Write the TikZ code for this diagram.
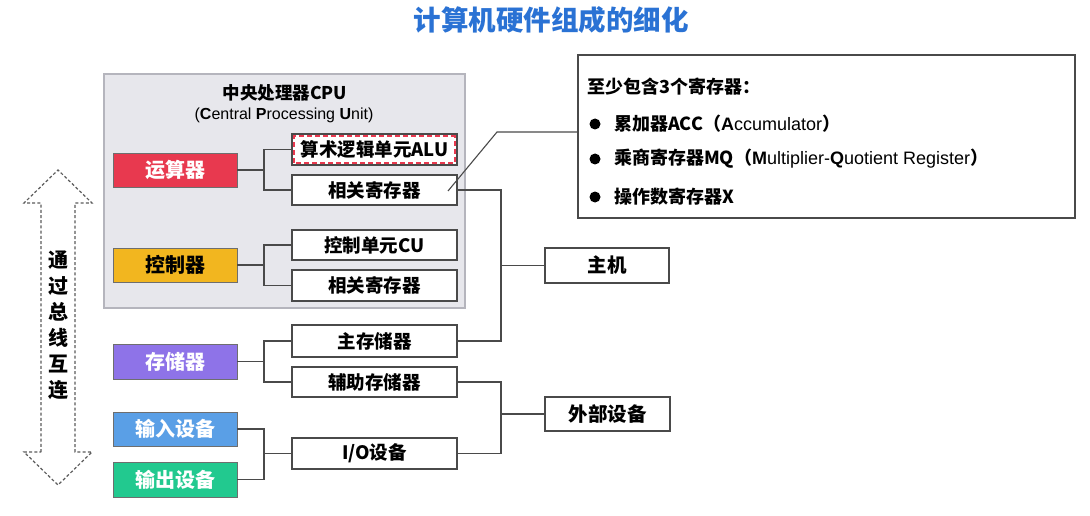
\documentclass[tikz,border=0pt]{standalone}
\usepackage{fontspec}
\setmainfont{Noto Sans CJK SC}
\newfontfamily\lat{Liberation Sans}
\definecolor{cred}{HTML}{E8394F}
\definecolor{cyel}{HTML}{F2B61F}
\definecolor{cpur}{HTML}{8E73E8}
\definecolor{cblu}{HTML}{5A9FE6}
\definecolor{cgrn}{HTML}{22C98F}
\definecolor{ctitle}{HTML}{2A72D4}
\definecolor{cline}{HTML}{4A4A4A}
\definecolor{cpufill}{HTML}{E7E7EC}
\definecolor{cpuline}{HTML}{B5B5BD}
\tikzset{
  colbox/.style={draw=cline!80, line width=0.9pt, minimum width=124pt, minimum height=34pt, inner sep=0pt, font=\fontsize{20}{22}\selectfont\bfseries, text=white},
  wbox/.style={draw=cline, line width=1.3pt, fill=white, minimum width=165pt, minimum height=31pt, inner sep=0pt, font=\fontsize{18.5}{20}\selectfont\bfseries},
  hbox/.style={draw=cline, line width=1.3pt, fill=white, minimum width=124pt, minimum height=35pt, inner sep=0pt, font=\fontsize{19.5}{21}\selectfont\bfseries},
  conn/.style={draw=cline, line width=1.3pt},
  ctext/.style={anchor=west, inner sep=0pt, font=\fontsize{18}{20}\selectfont\bfseries},
}
\begin{document}
\begin{tikzpicture}[x=1pt,y=-1pt]
\useasboundingbox (0,0) rectangle (1090,516);
\fill[white] (0,0) rectangle (1090,516);
% title
\node[font=\fontsize{27.5}{30}\selectfont\bfseries, text=ctitle] (title) at (551,20) {计算机硬件组成的细化};
% CPU box
\node[draw=cpuline, line width=1.2pt, fill=cpufill, minimum width=361pt, minimum height=234pt, inner sep=0pt] (cpu) at (284.5,191) {};
\node[font=\fontsize{17.5}{19}\selectfont\bfseries] (cput) at (285,93) {中央处理器CPU};
\node[font=\fontsize{16}{18}\selectfont\lat] (cpus) at (284,115) {(\textbf{C}entral \textbf{P}rocessing \textbf{U}nit)};
% left coloured boxes
\node[colbox, fill=cred] (alu0) at (175,170) {运算器};
\node[colbox, fill=cyel, text=black] (ctl) at (175,265) {控制器};
\node[colbox, fill=cpur, minimum height=35pt] (mem0) at (175,361.5) {存储器};
\node[colbox, fill=cblu] (inp) at (175,429) {输入设备};
\node[colbox, fill=cgrn, minimum height=35pt] (outp) at (175,479.5) {输出设备};
% white boxes
\node[wbox] (alu) at (374.5,149.5) {算术逻辑单元ALU};
\draw[cred, line width=2pt, dash pattern=on 5pt off 3pt] ([shift={(2.8,-2.8)}]alu.south west) rectangle ([shift={(-2.8,2.8)}]alu.north east);
\node[wbox, minimum height=30pt] (reg1) at (374.5,190) {相关寄存器};
\node[wbox, minimum height=30pt] (cu) at (374.5,245) {控制单元CU};
\node[wbox] (reg2) at (374.5,285.5) {相关寄存器};
\node[wbox, minimum height=32pt] (mm) at (374.5,341) {主存储器};
\node[wbox, minimum height=30pt] (aux) at (374.5,382) {辅助存储器};
\node[wbox] (io) at (374.5,453.5) {I/O设备};
\node[hbox] (host) at (607,265.5) {主机};
\node[hbox, minimum width=125pt, minimum height=34pt] (ext) at (607.5,414) {外部设备};
% brackets left
\coordinate (j1) at (264,170);
\coordinate (j2) at (264,265);
\coordinate (j3) at (264,361.5);
\coordinate (j4) at (264,453.5);
\draw[conn] (alu0.east) -- (j1);
\draw[conn] (alu.west) -| (j1) |- (reg1.west);
\draw[conn] (ctl.east) -- (j2);
\draw[conn] (cu.west) -| (j2) |- (reg2.west);
\draw[conn] (mem0.east) -- (j3);
\draw[conn] (mm.west) -| (j3) |- (aux.west);
\draw[conn] (inp.east) -| (j4) |- (outp.east);
\draw[conn] (j4) -- (io.west);
% brackets right
\coordinate (r1) at (501,265.5);
\coordinate (r2) at (501,414);
\draw[conn] (reg1.east) -| (r1) |- (mm.east);
\draw[conn] (r1) -- (host.west);
\draw[conn] (aux.east) -| (r2) |- (io.east);
\draw[conn] (r2) -- (ext.west);
% callout
\node[draw=cline, line width=1.3pt, fill=white, minimum width=497pt, minimum height=163pt, inner sep=0pt] (call) at (826.5,136.5) {};
\coordinate (cl) at (448,191);
\coordinate (cb) at (497,132);
\draw[cline, line width=1.1pt] (cl) -- (cb) -- (cb -| call.west);
\node[ctext] (h0) at (587,87) {至少包含3个寄存器：};
\fill (595,124) circle (5.5pt);
\fill (595,159) circle (5.5pt);
\fill (595,197) circle (5.5pt);
\node[ctext] (b1) at (614,124) {累加器ACC（{\lat\mdseries\textbf{A}ccumulator}）};
\node[ctext] (b2) at (614,159) {乘商寄存器MQ（{\lat\mdseries\textbf{M}ultiplier-\textbf{Q}uotient Register}）};
\node[ctext] (b3) at (614,197) {操作数寄存器X};
% bus arrow
\draw[cline!90, line width=1.2pt, dash pattern=on 3pt off 2.2pt]
  (41,452) -- (41,203) -- (24,203) -- (58,170) -- (92,203) -- (75,203) -- (75,452) -- (92,452) -- (58,485) -- (24,452) -- cycle;
\node[align=center, inner sep=0pt, font=\fontsize{20}{26}\selectfont\bfseries] (bus) at (58,325) {通\\过\\总\\线\\互\\连};
\end{tikzpicture}
\end{document}
